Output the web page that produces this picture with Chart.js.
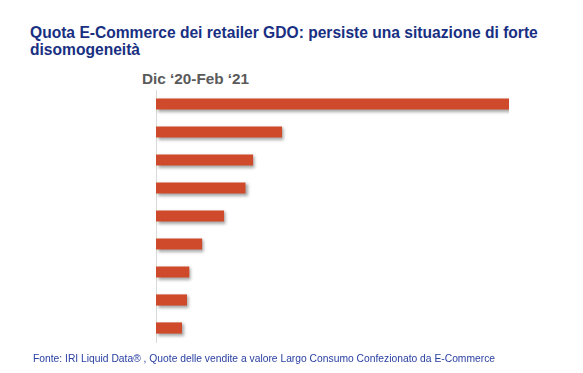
<!doctype html>
<html lang="it">
<head>
<meta charset="utf-8">
<title>Quota E-Commerce retailer GDO</title>
<script src="https://cdn.jsdelivr.net/npm/chart.js@4.4.1/dist/chart.umd.min.js"></script>
<style>
  html, body { margin: 0; padding: 0; background: #fff; }
  body { width: 583px; height: 373px; position: relative; overflow: hidden; font-family: "Liberation Sans", Arial, sans-serif; }
  .title { position: absolute; left: 30px; top: 24px; width: 545px; font-size: 15.6px; font-weight: bold; line-height: 17px; color: #182f82; }
  .period { position: absolute; left: 142px; top: 70px; font-size: 15.3px; font-weight: bold; color: #5a5a5a; }
  .source { position: absolute; left: 33px; top: 353px; font-size: 10.3px; color: #2a40a2; }
  #wrap { position: absolute; left: 0; top: 0; width: 583px; height: 373px; }
</style>
</head>
<body>
<div class="title">Quota E-Commerce dei retailer GDO: persiste una situazione di forte disomogeneità</div>
<div class="period">Dic ‘20-Feb ‘21</div>
<div id="wrap"><canvas id="canvas"></canvas></div>
<div class="source">Fonte: IRI Liquid Data® , Quote delle vendite a valore Largo Consumo Confezionato da E-Commerce</div>
<script>
    // retailer names are not shown in the picture
    var retailers = ["R1", "R2", "R3", "R4", "R5", "R6", "R7", "R8", "R9"];
    var quota = [14.0, 5.0, 3.85, 3.55, 2.7, 1.83, 1.32, 1.23, 1.03];
    var xMax = 14.0;

    var shadow = {
        id: 'shadow',
        beforeDatasetsDraw: function(chart) {
            var ctx = chart.ctx;
            ctx.save();
            ctx.shadowColor = 'rgba(0,0,0,0.35)';
            ctx.shadowBlur = 3;
            ctx.shadowOffsetX = 2;
            ctx.shadowOffsetY = 2;
        },
        afterDatasetsDraw: function(chart) {
            chart.ctx.restore();
        }
    };

    var config = {
        type: 'bar',
        data: {
            labels: retailers,
            datasets: [{
                label: "Quota E-Commerce",
                data: quota,
                backgroundColor: '#cf4a2b',
                borderWidth: 0,
                barPercentage: 0.4,
                categoryPercentage: 1
            }]
        },
        options: {
            indexAxis: 'y',
            responsive: true,
            maintainAspectRatio: false,
            animation: false,
            layout: {
                padding: { left: 156, right: 74, top: 90, bottom: 31 }
            },
            plugins: {
                legend: { display: false },
                tooltip: { enabled: false }
            },
            scales: {
                x: {
                    display: false,
                    min: 0,
                    max: xMax
                },
                y: {
                    ticks: { display: false },
                    grid: { display: false, drawTicks: false },
                    border: { display: true, color: '#d9d9d9', width: 1 }
                }
            }
        },
        plugins: [shadow]
    };

    window.onload = function() {
        window.myBar = new Chart(document.getElementById("canvas"), config);
    };
</script>
</body>
</html>
